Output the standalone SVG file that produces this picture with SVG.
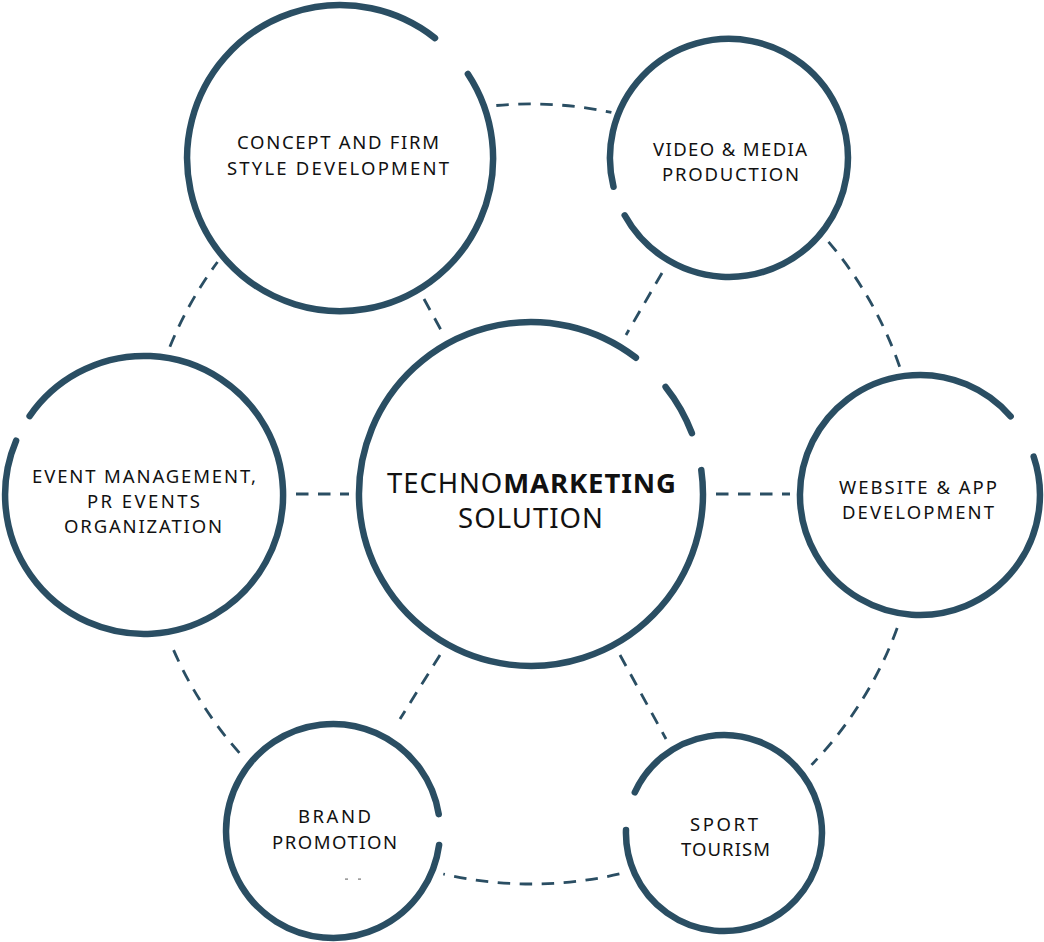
<svg xmlns="http://www.w3.org/2000/svg" width="1044" height="942" viewBox="0 0 1044 942">
<style>
.ring{fill:none;stroke:#2a4e63;stroke-width:6.5;stroke-linecap:round}
.dash{fill:none;stroke:#2a4e63;stroke-width:2.8;stroke-dasharray:12.5 9.5}
.t{font-family:"Noto Sans","Liberation Sans",sans-serif;font-size:18.5px;fill:#111;text-anchor:middle}
.tc{font-family:"Noto Sans","Liberation Sans",sans-serif;font-size:27.5px;fill:#111;text-anchor:middle}
</style>
<rect width="1044" height="942" fill="#fff"/>
<g id="connectors">
<path class="dash" d="M 496.3 105.5 A 390 390 0 0 1 611.4 112.4"/>
<path class="dash" d="M 828.5 241.8 A 390 390 0 0 1 900.0 367.7"/>
<path class="dash" d="M 897.2 628.0 A 390 390 0 0 1 811.5 764.9"/>
<path class="dash" d="M 619.4 873.9 A 390 390 0 0 1 443.3 874.0"/>
<path class="dash" d="M 239.4 752.9 A 390 390 0 0 1 171.2 644.5"/>
<path class="dash" d="M 169.9 346.7 A 390 390 0 0 1 217.5 262.0"/>
<line class="dash" x1="424" y1="299" x2="441" y2="330"/>
<line class="dash" x1="662" y1="273" x2="626" y2="335"/>
<line class="dash" x1="716" y1="494" x2="790" y2="494"/>
<line class="dash" x1="296" y1="494" x2="349" y2="494"/>
<line class="dash" x1="620" y1="655" x2="666" y2="739"/>
<line class="dash" x1="440" y1="655" x2="400" y2="719"/>
</g>
<g id="center">
<path class="ring" d="M 701.3 470.1 A 172 172 0 1 1 635.9 357.7"/>
<path class="ring" d="M 665.6 386.9 A 172 172 0 0 1 691.9 433.2"/>
<text class="tc" x="531.5" y="493" textLength="289" lengthAdjust="spacing">TECHNO<tspan font-weight="700">MARKETING</tspan></text>
<text class="tc" x="530.5" y="528" textLength="145" lengthAdjust="spacing">SOLUTION</text>
</g>
<g id="concept">
<path class="ring" d="M 467.9 74.0 A 153 153 0 1 1 435.0 38.1"/>
<text class="t" x="338" y="149" textLength="202" lengthAdjust="spacing">CONCEPT AND FIRM</text>
<text class="t" x="338" y="175" textLength="222" lengthAdjust="spacing">STYLE DEVELOPMENT</text>
</g>
<g id="video">
<path class="ring" d="M 613.5 186.8 A 119 119 0 1 1 624.7 215.3"/>
<text class="t" x="730" y="156" textLength="154" lengthAdjust="spacing">VIDEO &amp; MEDIA</text>
<text class="t" x="730.5" y="181" textLength="137" lengthAdjust="spacing">PRODUCTION</text>
</g>
<g id="website">
<path class="ring" d="M 1033.7 456.7 A 120 120 0 1 1 1010.6 416.3"/>
<text class="t" x="918" y="494" textLength="158" lengthAdjust="spacing">WEBSITE &amp; APP</text>
<text class="t" x="918" y="519" textLength="152" lengthAdjust="spacing">DEVELOPMENT</text>
</g>
<g id="sport">
<path class="ring" d="M 634.8 792.4 A 98 98 0 1 1 626.0 830.1"/>
<text class="t" x="724" y="831" textLength="68" lengthAdjust="spacing">SPORT</text>
<text class="t" x="725.5" y="856" textLength="89" lengthAdjust="spacing">TOURISM</text>
</g>
<g id="brand">
<path class="ring" d="M 439.1 845.0 A 107 107 0 1 1 438.7 814.1"/>
<text class="t" x="334.5" y="823" textLength="73" lengthAdjust="spacing">BRAND</text>
<text class="t" x="334.5" y="849" textLength="125" lengthAdjust="spacing">PROMOTION</text>
<rect x="345" y="878.5" width="3" height="1.2" fill="#777"/>
<rect x="358" y="878.5" width="3" height="1.2" fill="#777"/>
</g>
<g id="event">
<path class="ring" d="M 29.6 416.1 A 139 139 0 1 1 16.1 440.7"/>
<text class="t" x="144" y="483" textLength="224" lengthAdjust="spacing">EVENT MANAGEMENT,</text>
<text class="t" x="143.5" y="508" textLength="113" lengthAdjust="spacing">PR EVENTS</text>
<text class="t" x="143" y="533" textLength="158" lengthAdjust="spacing">ORGANIZATION</text>
</g>
</svg>
